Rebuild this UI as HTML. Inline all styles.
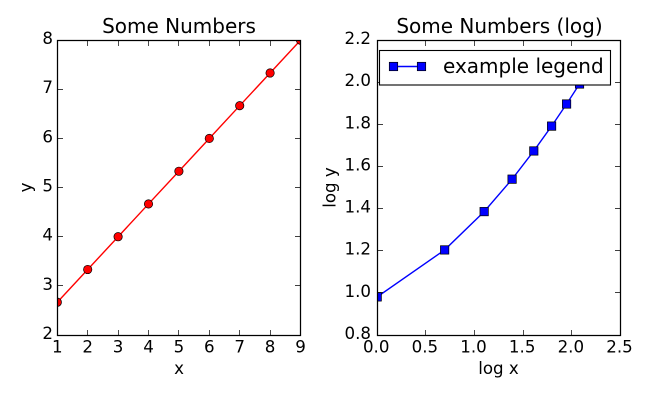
<!DOCTYPE html>
<html>
<head>
<meta charset="utf-8">
<title>Some Numbers</title>
<style>
html,body{margin:0;padding:0;background:#fff;}
svg{display:block;}
text{font-family:"DejaVu Sans","Liberation Sans",sans-serif;fill:#000;}
.tick{font-size:16.67px;}
.label{font-size:16.67px;}
.title{font-size:20px;}
</style>
</head>
<body>
<svg id="figure" width="650" height="400" viewBox="0 0 650 400" xmlns="http://www.w3.org/2000/svg">
  <defs>
    <clipPath id="clip-left"><rect x="57.5" y="40.5" width="243" height="295"/></clipPath>
    <clipPath id="clip-right"><rect x="377.5" y="40.5" width="243" height="295"/></clipPath>
  </defs>
  <g id="left-axes"></g>
  <g id="right-axes"></g>
  <text class="title" x="179" y="33" text-anchor="middle">Some Numbers</text>
  <text class="title" x="499.5" y="33" text-anchor="middle">Some Numbers (log)</text>
  <text class="label" x="179" y="374" text-anchor="middle">x</text>
  <text class="label" x="498.5" y="374" text-anchor="middle">log x</text>
  <text class="label" transform="translate(31.5,187.5) rotate(-90)" text-anchor="middle">y</text>
  <text class="label" transform="translate(335.5,187.5) rotate(-90)" text-anchor="middle">log y</text>
  <g>
    <rect x="379.5" y="50.5" width="231" height="34.5" fill="#fff" stroke="#000" stroke-width="1.1"/>
    <line x1="393.5" y1="66.5" x2="421.5" y2="66.5" stroke="#00f" stroke-width="1.39"/>
    <rect x="389.3" y="62.3" width="8.4" height="8.4" fill="#00f" stroke="#000" stroke-width="0.7"/>
    <rect x="417.3" y="62.3" width="8.4" height="8.4" fill="#00f" stroke="#000" stroke-width="0.7"/>
    <text x="443" y="73" font-size="20">example legend</text>
  </g>
</svg>
<script>
var xValues = [1, 2, 3, 4, 5, 6, 7, 8, 9];
var yValues = [2.667, 3.333, 4, 4.667, 5.333, 6, 6.667, 7.333, 8];
var logXValues = [0, 0.693, 1.099, 1.386, 1.609, 1.792, 1.946, 2.079, 2.197];
var logYValues = [0.981, 1.204, 1.386, 1.54, 1.674, 1.792, 1.897, 1.992, 2.079];
var leftXTicks = [1, 2, 3, 4, 5, 6, 7, 8, 9];
var leftYTicks = [2, 3, 4, 5, 6, 7, 8];
var rightXTicks = ["0.0", "0.5", "1.0", "1.5", "2.0", "2.5"];
var rightYTicks = ["0.8", "1.0", "1.2", "1.4", "1.6", "1.8", "2.0", "2.2"];

var NS = 'http://www.w3.org/2000/svg';

function make(tag, parent, props) {
  var el = document.createElementNS(NS, tag);
  for (var k in props) {
    el.setAttribute(k, props[k]);
  }
  parent.appendChild(el);
  return el;
}

function scale(d0, d1, r0, r1) {
  return function (v) {
    return r0 + (v - d0) * (r1 - r0) / (d1 - d0);
  };
}

function drawAxes(group, box, frameBox, xTicks, yTicks, seriesX, seriesY, color, markerKind, clipId) {
  var sx = scale(Number(xTicks[0]), Number(xTicks[xTicks.length - 1]), box.l, box.r);
  var sy = scale(Number(yTicks[0]), Number(yTicks[yTicks.length - 1]), box.b, box.t);

  var bg = make('rect', group, {x: frameBox.l, y: frameBox.t, width: frameBox.r - frameBox.l, height: frameBox.b - frameBox.t, fill: '#fff'});
  
  

  var series = make('g', group, {'clip-path': 'url(#' + clipId + ')'});
  
  

  var pts = seriesX.map(function (v, i) {
    return sx(v) + ',' + sy(seriesY[i]);
  }).join(' ');
  var line = make('polyline', series, {points: pts, fill: 'none', stroke: color, 'stroke-width': 1.39});
  
  

  seriesX.forEach(function (v, i) {
    var mark;
    if (markerKind === 'circle') {
      mark = make('circle', series, {cx: sx(v), cy: sy(seriesY[i]), r: 4.2, fill: color, stroke: '#000', 'stroke-width': 0.7});
    } else {
      mark = make('rect', series, {x: sx(v) - 4.2, y: sy(seriesY[i]) - 4.2, width: 8.4, height: 8.4, fill: color, stroke: '#000', 'stroke-width': 0.7});
    }
    
    
  });

  xTicks.forEach(function (t) {
    var x = Math.round(sx(Number(t)) - 0.5) + 0.5;
    var marks = make('path', group, {d: 'M' + x + ' ' + frameBox.b + 'v-5.5M' + x + ' ' + frameBox.t + 'v5.5', stroke: '#000', 'stroke-width': 0.7, fill: 'none'});
    
    
    var label = make('text', group, {x: sx(Number(t)) + box.xLabelShift, y: box.b + 17.5, 'text-anchor': 'middle', 'class': 'tick'});
    
    
    label.textContent = t;
  });

  yTicks.forEach(function (t) {
    var y = Math.round(sy(Number(t)) - 0.5) + 0.5;
    var marks = make('path', group, {d: 'M' + frameBox.l + ' ' + y + 'h5.5M' + frameBox.r + ' ' + y + 'h-5.5', stroke: '#000', 'stroke-width': 0.7, fill: 'none'});
    
    
    var label = make('text', group, {x: box.yLabelX, y: sy(Number(t)) + 3.9, 'text-anchor': 'end', 'class': 'tick'});
    
    
    label.textContent = t;
  });

  var frame = make('rect', group, {x: frameBox.l, y: frameBox.t, width: frameBox.r - frameBox.l, height: frameBox.b - frameBox.t, fill: 'none', stroke: '#000', 'stroke-width': 1.25});
  
  
}

drawAxes(document.getElementById('left-axes'), {l: 57.3, r: 300.5, t: 40.2, b: 335, xLabelShift: 0, yLabelX: 53}, {l: 57.5, r: 300.5, t: 40.5, b: 335.5}, leftXTicks, leftYTicks, xValues, yValues, '#f00', 'circle', 'clip-left');
drawAxes(document.getElementById('right-axes'), {l: 377.2, r: 620.5, t: 40.2, b: 335, xLabelShift: -1, yLabelX: 371}, {l: 377.5, r: 620.5, t: 40.5, b: 335.5}, rightXTicks, rightYTicks, logXValues, logYValues, '#00f', 'square', 'clip-right');
</script>
</body>
</html>
